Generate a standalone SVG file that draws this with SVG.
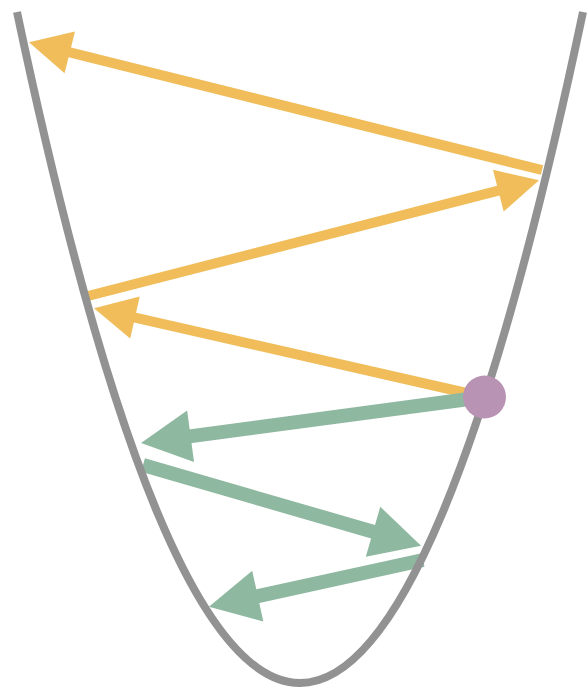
<svg xmlns="http://www.w3.org/2000/svg" width="588" height="689" viewBox="0 0 588 689">
  <style>
    .y { stroke: #F0BD5A; stroke-width: 10; fill: none; }
    .g { stroke: #8FB8A0; stroke-width: 14; fill: none; }
    .curve { stroke: #929292; stroke-width: 8; fill: none; }
  </style>
  <defs>
    <marker id="hy" markerUnits="userSpaceOnUse" markerWidth="46" markerHeight="46" refX="1" refY="21.5" orient="auto" overflow="visible">
      <path d="M0,0 L42,21.5 L0,43 Z" fill="#F0BD5A"/>
    </marker>
    <marker id="hg" markerUnits="userSpaceOnUse" markerWidth="54" markerHeight="54" refX="1" refY="26" orient="auto" overflow="visible">
      <path d="M0,0 L50,26 L0,52 Z" fill="#8FB8A0"/>
    </marker>
  </defs>
  <rect width="588" height="689" fill="#ffffff"/>
  <g id="connectors">
    <line class="y" x1="542" y1="170" x2="68.8" y2="52.1" marker-end="url(#hy)"/>
    <line class="y" x1="88" y1="296" x2="499.3" y2="190.4" marker-end="url(#hy)"/>
    <line class="y" x1="484" y1="397" x2="134" y2="317.3" marker-end="url(#hy)"/>
    <line class="g" x1="484" y1="397" x2="189.6" y2="436.4" marker-end="url(#hg)"/>
    <line class="g" x1="143" y1="465" x2="374" y2="532" marker-end="url(#hg)"/>
    <line class="g" x1="423" y1="560" x2="256.8" y2="596.3" marker-end="url(#hg)"/>
  </g>
  <g id="parabola">
    <path class="curve" d="M17,12 Q300,1354 583,12"/>
  </g>
  <g id="ball">
    <circle cx="484.5" cy="397" r="21.5" fill="#B993B3"/>
  </g>
</svg>
